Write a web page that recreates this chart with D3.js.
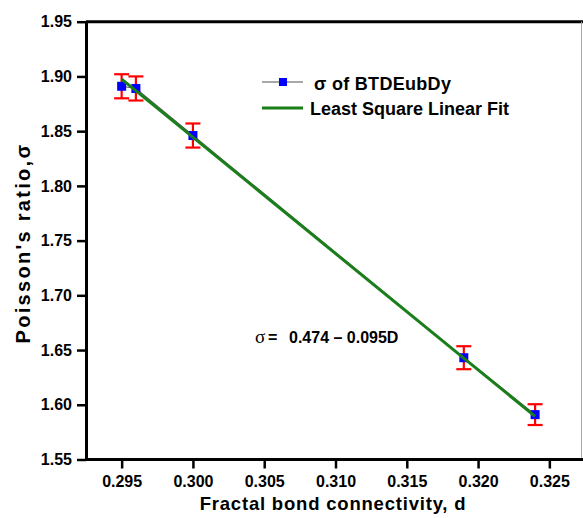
<!DOCTYPE html>
<html><head><meta charset="utf-8">
<script src="https://cdn.jsdelivr.net/npm/d3@7"></script>
<style>body{margin:0;background:#fff}svg{display:block}text{font-family:"Liberation Sans",Arial,sans-serif;font-weight:bold}</style>
</head><body>
<svg id="c" width="583" height="518"></svg>
<script>
const xValues = [0.295, 0.296, 0.300, 0.319, 0.324];
const sigmaValues = [1.891, 1.889, 1.846, 1.643, 1.591];
const errorValues = [0.011, 0.011, 0.011, 0.0105, 0.0095];
const fitX = [0.295, 0.324];
const fitY = [1.8976, 1.5894];
const xTicks = [0.295, 0.300, 0.305, 0.310, 0.315, 0.320, 0.325];
const yTicks = [1.55, 1.60, 1.65, 1.70, 1.75, 1.80, 1.85, 1.90, 1.95];

const svg = d3.select("#c");
const x = d3.scaleLinear().domain([0.2925, 0.3275]).range([86, 585]);
const y = d3.scaleLinear().domain([1.55, 1.95]).range([459.5, 21.7]);

// frame
svg.append("line").attr("x1",86).attr("x2",583).attr("y1",y(1.95)).attr("y2",y(1.95)).attr("stroke","#000").attr("stroke-width",3);
svg.append("line").attr("x1",581.5).attr("x2",581.5).attr("y1",y(1.95)).attr("y2",y(1.55)).attr("stroke","#aaa").attr("stroke-width",1);

const xAxis = svg.append("g").attr("transform",`translate(0,${y(1.55)})`)
  .call(d3.axisBottom(x).tickValues(xTicks).tickFormat(d3.format(".3f")).tickSize(9).tickPadding(7).tickSizeOuter(0));
const yAxis = svg.append("g").attr("transform",`translate(86,0)`)
  .call(d3.axisLeft(y).tickValues(yTicks).tickFormat(d3.format(".2f")).tickSize(9).tickPadding(5).tickSizeOuter(0));
[xAxis,yAxis].forEach(a=>{
  a.select(".domain").attr("stroke","#000").attr("stroke-width",3);
  a.selectAll(".tick line").attr("stroke","#000").attr("stroke-width",2.5);
  a.selectAll(".tick text").attr("fill","#000").style("font-size","16px").style("font-weight","bold").style("font-family","'Liberation Sans',Arial,sans-serif");
});
xAxis.select(".domain").attr("d",`M86,0H583`);

// series connecting line
const line = d3.line().x((d,i)=>x(xValues[i])).y(d=>y(d));
svg.append("path").datum(sigmaValues).attr("d",line).attr("fill","none").attr("stroke","#555").attr("stroke-width",1.2);

// error bars
const eb = svg.append("g").attr("stroke","#ff0000").attr("stroke-width",2.2);
sigmaValues.forEach((v,i)=>{
  const cx = x(xValues[i]);
  eb.append("line").attr("x1",cx).attr("x2",cx).attr("y1",y(v+errorValues[i])).attr("y2",y(v-errorValues[i]));
  [v+errorValues[i], v-errorValues[i]].forEach(e=>{
    eb.append("line").attr("x1",cx-7.5).attr("x2",cx+7.5).attr("y1",y(e)).attr("y2",y(e));
  });
});

// markers
svg.append("g").selectAll("rect").data(sigmaValues).join("rect")
  .attr("x",(d,i)=>x(xValues[i])-4.5).attr("y",d=>y(d)-4.5).attr("width",9).attr("height",9).attr("fill","#0000ff");

// fit line
svg.append("line").attr("x1",x(fitX[0])).attr("y1",y(fitY[0])).attr("x2",x(fitX[1])).attr("y2",y(fitY[1]))
  .attr("stroke","#1a7f1a").attr("stroke-width",3);

// legend
const lg = svg.append("g");
lg.append("line").attr("x1",262).attr("x2",303).attr("y1",82).attr("y2",82).attr("stroke","#555").attr("stroke-width",1.2);
lg.append("rect").attr("x",279).attr("y",78).attr("width",8).attr("height",8).attr("fill","#0000ff");
lg.append("text").attr("x",314).attr("y",90).style("font-size","18px").style("letter-spacing","0.3px").text("σ of BTDEubDy");
lg.append("line").attr("x1",262).attr("x2",303).attr("y1",108).attr("y2",108).attr("stroke","#1a7f1a").attr("stroke-width",3);
lg.append("text").attr("x",310).attr("y",115).style("font-size","18px").text("Least Square Linear Fit");

// equation
const eq = svg.append("text").attr("y",343).style("font-size","16px");
eq.append("tspan").attr("x",255).style("font-size","19px").style("font-weight","normal").style("font-family","'Liberation Serif',serif").text("σ");
eq.append("tspan").attr("x",268).text("=");
eq.append("tspan").attr("x",289).text("0.474 – 0.095D");

// axis titles
svg.append("text").attr("x",333).attr("y",510).attr("text-anchor","middle").style("font-size","18.5px").style("letter-spacing","0.8px").text("Fractal bond connectivity, d");
svg.append("text").attr("transform","translate(30,243) rotate(-90)").attr("text-anchor","middle").style("font-size","20px").style("letter-spacing","2.3px").text("Poisson's ratio,σ");
</script>
</body></html>
